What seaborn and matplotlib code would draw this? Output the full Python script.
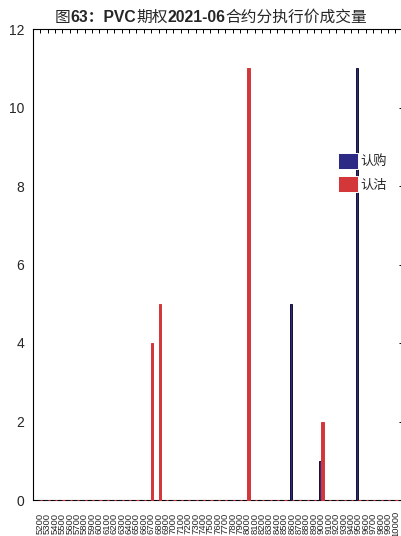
import matplotlib
matplotlib.use("Agg")
import matplotlib.pyplot as plt
import seaborn as sns
import pandas as pd

# ---------------- data ----------------
strikes = ["5200", "5300", "5400", "5500", "5600", "5700", "5800", "5900", "6000", "6100",
           "6200", "6300", "6400", "6500", "6600", "6700", "6800", "6900", "7000", "7100",
           "7200", "7300", "7400", "7500", "7600", "7700", "7800", "7900", "8000", "8100",
           "8200", "8300", "8400", "8500", "8600", "8700", "8800", "8900", "9000", "9100",
           "9200", "9300", "9400", "9500", "9600", "9700", "9800", "9900", "10000"]
call_volume = [0, 0, 0, 0, 0, 0, 0, 0, 0, 0,
               0, 0, 0, 0, 0, 0, 0, 0, 0, 0,
               0, 0, 0, 0, 0, 0, 0, 0, 0, 0,
               0, 0, 0, 0, 5, 0, 0, 0, 1, 0,
               0, 0, 0, 11, 0, 0, 0, 0, 0]
put_volume = [0, 0, 0, 0, 0, 0, 0, 0, 0, 0,
              0, 0, 0, 0, 0, 4, 5, 0, 0, 0,
              0, 0, 0, 0, 0, 0, 0, 0, 11, 0,
              0, 0, 0, 0, 0, 0, 0, 0, 2, 0,
              0, 0, 0, 0, 0, 0, 0, 0, 0]
series_names = ["认购", "认沽"]
yticks = [0, 2, 4, 6, 8, 10, 12]
title_parts = [("图", "normal"), ("63：PVC", "bold"), ("期权", "normal"),
               ("2021-06", "bold"), ("合约分执行价成交量", "normal")]

# ---------------- style ----------------
sns.set_style("white")
FAM = ["Liberation Sans", "Noto Sans CJK SC", "DejaVu Sans"]
plt.rcParams["font.family"] = FAM
plt.rcParams["axes.unicode_minus"] = False

CALL_C = "#2d2a85"
PUT_C = "#d3373a"

df = pd.DataFrame({
    "strike": strikes * 2,
    "type": [series_names[0]] * len(strikes) + [series_names[1]] * len(strikes),
    "volume": call_volume + put_volume,
})

W, H = 402, 536
fig = plt.figure(figsize=(W / 100, H / 100), dpi=100)
ax = fig.add_axes([32.7 / W, 36 / H, (W - 32.7) / W + 0.002, 471 / H])

sns.barplot(data=df, x="strike", y="volume", hue="type", order=strikes,
            hue_order=series_names, palette=[CALL_C, PUT_C], width=0.6,
            saturation=1, ax=ax, zorder=3, linewidth=0.7, errorbar=None)

for p in ax.patches:
    fc = p.get_facecolor()
    if fc[0] > 0.5:
        p.set_edgecolor(PUT_C)
    else:
        p.set_edgecolor("#12122e")
    p.set_clip_on(False)

ax.set_xlim(-1, len(strikes))
ax.set_ylim(0, 12)
ax.set_yticks(yticks)
ax.set_yticklabels([str(v) for v in yticks], fontsize=10)
ax.set_xticks(range(len(strikes)))
ax.set_xticklabels(strikes, rotation=90, fontsize=6.8, va="center", ha="center")
ax.set_xlabel("")
ax.set_ylabel("")

ax.tick_params(axis="both", direction="in", top=True, right=True,
               length=3.2, width=0.7, color="black")
ax.tick_params(axis="x", pad=17)
ax.tick_params(axis="y", pad=6)
for s in ax.spines.values():
    s.set_visible(True)
    s.set_color("black")
    s.set_linewidth(0.8)

sns.move_legend(ax, "upper left", bbox_to_anchor=(0.826, 0.737), frameon=False,
                title=None, fontsize=9.5, handlelength=1.45, handleheight=1.5,
                handletextpad=0.25, labelspacing=0.55, borderpad=0,
                borderaxespad=0)

# ---------------- title (mixed weight) ----------------
fig.canvas.draw()
renderer = fig.canvas.get_renderer()
texts = []
for s, w in title_parts:
    t = fig.text(0, (H - 22) / H, s, fontsize=11.3, fontweight=w, ha="left",
                 va="baseline", family=FAM)
    texts.append(t)
widths = [t.get_window_extent(renderer).width for t in texts]
x = 211 - sum(widths) / 2
for t, wd in zip(texts, widths):
    t.set_x(x / W)
    x += wd

fig.savefig("out.png", dpi=100)
